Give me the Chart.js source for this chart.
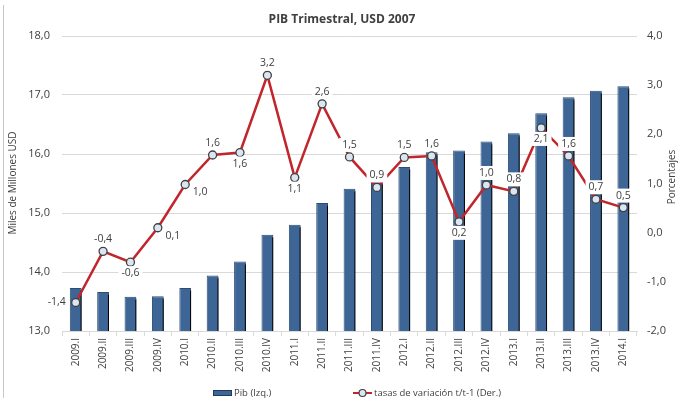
<!DOCTYPE html>
<html>
<head>
<meta charset="UTF-8">
<script src="https://cdn.jsdelivr.net/npm/chart.js"></script>
<style>
  body { margin: 0; background: white; }
  #wrap { width: 679px; height: 403px; }
</style>
</head>
<body>
<div id="wrap"><canvas id="chart" width="679" height="403"></canvas></div>
<script>
// datos
const quarters = ['2009.I','2009.II','2009.III','2009.IV','2010.I','2010.II','2010.III','2010.IV',
  '2011.I','2011.II','2011.III','2011.IV','2012.I','2012.II','2012.III','2012.IV',
  '2013.I','2013.II','2013.III','2013.IV','2014.I'];
const pib = [13.73, 13.66, 13.58, 13.59, 13.73, 13.94, 14.18, 14.63, 14.80, 15.17, 15.41,
  15.54, 15.78, 16.03, 16.06, 16.21, 16.35, 16.69, 16.96, 17.07, 17.15];
const tasas = [-1.42, -0.38, -0.60, 0.10, 0.98, 1.58, 1.63, 3.20, 1.12, 2.62, 1.54,
  0.92, 1.53, 1.56, 0.22, 0.97, 0.84, 2.13, 1.56, 0.68, 0.51];
const leftTicks = [13, 14, 15, 16, 17, 18];
const rightTicks = [-2, -1, 0, 1, 2, 3, 4];
// donde va cada etiqueta respecto al punto: a=arriba, b=abajo, l=izquierda, br=abajo-derecha
const labelPos = ['l','a','b','br','br','a','b','a','b','a','a','a','a','a','b','a','a','b','a','a','a'];

const TXT = '#404040';
const FONT = '"Open Sans", "Liberation Sans", sans-serif';
const fmt = v => v.toFixed(1).replace('.', ',');

const barShadow = {
  id: 'barShadow',
  beforeDatasetDraw(chart, args) {
    if (args.index !== 0) return;
    const ctx = chart.ctx;
    ctx.save();
    ctx.shadowColor = 'rgba(0,0,0,1)';
    ctx.shadowOffsetX = 3;
    ctx.shadowOffsetY = 2;
    ctx.shadowBlur = 0;
  },
  afterDatasetDraw(chart, args) {
    if (args.index !== 0) return;
    chart.ctx.restore();
  }
};

const extras = {
  id: 'extras',
  afterDatasetsDraw(chart) {
    const ctx = chart.ctx;
    const meta = chart.getDatasetMeta(1);
    ctx.save();
    ctx.font = '10.5px ' + FONT;
    ctx.textAlign = 'center';
    ctx.textBaseline = 'middle';
    meta.data.forEach((pt, i) => {
      const txt = fmt(tasas[i]);
      let x = pt.x, y = pt.y;
      const p = labelPos[i];
      if (p === 'a') y -= 12;
      else if (p === 'b') y += 11;
      else if (p === 'l') x -= 19;
      else if (p === 'br') { x += 15; y += 8; }
      const w = ctx.measureText(txt).width + 6;
      ctx.fillStyle = 'white';
      ctx.fillRect(x - w / 2, y - 7, w, 14);
      ctx.fillStyle = TXT;
      ctx.fillText(txt, x, y);
    });
    ctx.restore();
  },
  afterDraw(chart) {
    const ctx = chart.ctx;
    ctx.save();
    // marco izquierdo
    ctx.strokeStyle = '#c8c8c8';
    ctx.lineWidth = 1;
    ctx.beginPath();
    ctx.moveTo(3.5, 5);
    ctx.lineTo(3.5, 398);
    ctx.stroke();

    ctx.fillStyle = TXT;
    ctx.textBaseline = 'middle';
    ctx.textAlign = 'center';
    ctx.font = 'bold 12px ' + FONT;
    ctx.fillText('PIB Trimestral, USD 2007', 342, 20);

    ctx.font = '10px ' + FONT;
    ctx.save();
    ctx.translate(13, 183);
    ctx.rotate(-Math.PI / 2);
    ctx.fillText('Miles de Millones USD', 0, 0);
    ctx.restore();
    ctx.save();
    ctx.translate(672, 177);
    ctx.rotate(-Math.PI / 2);
    ctx.fillText('Porcentajes', 0, 0);
    ctx.restore();

    // leyenda
    const ly = 393;
    ctx.fillStyle = '#3d6596';
    ctx.fillRect(213, ly - 3, 19, 6);
    ctx.strokeStyle = '#1f3a5c';
    ctx.strokeRect(213.5, ly - 2.5, 18, 5);
    ctx.fillStyle = TXT;
    ctx.textAlign = 'left';
    ctx.font = '9.5px ' + FONT;
    ctx.fillText('Pib (Izq.)', 234, ly);

    ctx.strokeStyle = '#c0262c';
    ctx.lineWidth = 2;
    ctx.beginPath();
    ctx.moveTo(353, ly);
    ctx.lineTo(372, ly);
    ctx.stroke();
    ctx.beginPath();
    ctx.arc(362.5, ly, 3.5, 0, Math.PI * 2);
    ctx.fillStyle = '#dce6f2';
    ctx.fill();
    ctx.strokeStyle = '#404040';
    ctx.lineWidth = 1.2;
    ctx.stroke();
    ctx.fillStyle = TXT;
    ctx.fillText('tasas de variación t/t-1 (Der.)', 374, ly);
    ctx.restore();
  }
};

new Chart(document.getElementById('chart'), {
  data: {
    labels: quarters,
    datasets: [
      {
        type: 'bar',
        label: 'Pib (Izq.)',
        data: pib,
        yAxisID: 'y',
        backgroundColor: '#3d6596',
        borderColor: '#2c4d75',
        borderWidth: 1,
        barPercentage: 0.43,
        categoryPercentage: 1,
        order: 2
      },
      {
        type: 'line',
        label: 'tasas de variación t/t-1 (Der.)',
        data: tasas,
        yAxisID: 'y1',
        borderColor: '#c0262c',
        borderWidth: 2.5,
        pointRadius: 4,
        pointBackgroundColor: '#dce6f2',
        pointBorderColor: '#404040',
        pointBorderWidth: 1.3,
        tension: 0,
        order: 1
      }
    ]
  },
  options: {
    responsive: false,
    animation: false,
    layout: { padding: { top: 36, left: 0, right: 0, bottom: 0 } },
    plugins: { legend: { display: false }, title: { display: false }, tooltip: { enabled: false } },
    scales: {
      x: {
        offset: true,
        grid: { display: true, drawOnChartArea: false, drawTicks: true, tickLength: 5, offset: true, color: '#d9d9d9' },
        border: { display: true, color: '#d9d9d9' },
        ticks: { color: TXT, font: { size: 10, family: FONT }, minRotation: 90, maxRotation: 90, autoSkip: false, padding: 2 },
        afterFit(s) { s.height = 72; }
      },
      y: {
        position: 'left',
        min: 13, max: 18,
        afterBuildTicks(s) { s.ticks = leftTicks.map(v => ({ value: v })); },
        grid: { color: '#d9d9d9', drawTicks: false },
        border: { display: false },
        ticks: { color: TXT, font: { size: 11, family: FONT }, padding: 12, callback: v => fmt(v) },
        afterFit(s) { s.width = 62; }
      },
      y1: {
        position: 'right',
        min: -2, max: 4,
        afterBuildTicks(s) { s.ticks = rightTicks.map(v => ({ value: v })); },
        grid: { drawOnChartArea: false, drawTicks: false },
        border: { display: false },
        ticks: { color: TXT, font: { size: 11, family: FONT }, padding: 10, callback: v => fmt(v) },
        afterFit(s) { s.width = 42; }
      }
    }
  },
  plugins: [barShadow, extras]
});
</script>
</body>
</html>
